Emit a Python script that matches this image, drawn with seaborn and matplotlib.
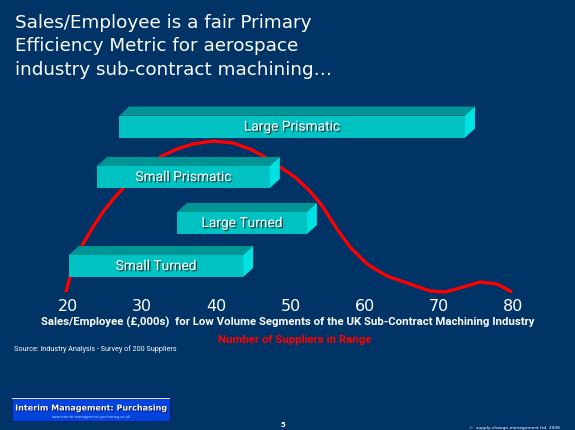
import numpy as np
import pandas as pd
import seaborn as sns
import matplotlib.pyplot as plt
import matplotlib.patheffects as pe
from matplotlib.patches import Polygon, Rectangle

# segment bars: sales/employee range (£,000s)
segments = ['Large Prismatic', 'Small Prismatic', 'Large Turned', 'Small Turned']
seg_start = [26.9, 23.9, 34.7, 20.1]
seg_end = [73.5, 47.2, 52.2, 43.6]
seg_level = [43.1, 30.5, 19.0, 8.25]

# number of suppliers in range (curve)
sales = [19.73, 20.27, 20.94, 22.02, 23.37, 24.72, 26.33, 27.95, 30.11, 32.40,
         34.69, 36.85, 39.54, 42.24, 44.53, 46.55, 48.57, 50.59, 52.61, 54.37,
         56.25, 58.01, 60.30, 62.99, 66.09, 68.79, 70.81, 72.83, 75.53, 77.82, 79.84]
suppliers = [1.7, 5.5, 9.5, 13.75, 18.0, 21.75, 25.5, 28.75, 33.0, 35.5,
             37.5, 38.75, 39.5, 39.0, 37.5, 35.5, 33.0, 30.5, 27.0, 23.0,
             17.5, 13.0, 8.75, 5.75, 3.75, 2.0, 1.75, 2.75, 4.25, 3.75, 1.75]

xticks = [20, 30, 40, 50, 60, 70, 80]

bg = '#003366'
narrow = ['Roboto', 'DejaVu Sans']

sns.set_theme(style='white')
plt.rcParams['font.family'] = ['DejaVu Sans']

fig = plt.figure(figsize=(5.75, 4.31), dpi=100)
fig.patch.set_facecolor(bg)
ax = fig.add_axes([30 / 575, 1 - 298 / 431, 515 / 575, 203 / 431])
ax.set_facecolor(bg)
ax.set_xlim(14.88, 84.29)
ax.set_ylim(0.5, 51.25)

# curve sits behind the bars
df = pd.DataFrame({'sales': sales, 'suppliers': suppliers})
sns.lineplot(data=df, x='sales', y='suppliers', ax=ax, color='#FF0000', lw=2.4,
             zorder=2, sort=False)
ax.lines[-1].set_solid_joinstyle('round')
ax.lines[-1].set_solid_capstyle('butt')

# 3d-ish bars
h = 5.5
dx, dy = 1.35, 2.25
ax.barh(seg_level, np.array(seg_end) - np.array(seg_start), left=seg_start,
        height=h, color='#00C2C2', edgecolor='none', zorder=3)
for name, s, e, lv in zip(segments, seg_start, seg_end, seg_level):
    top, bot = lv + h / 2, lv - h / 2
    ax.add_patch(Polygon([(s, top), (s + dx, top + dy), (e + dx, top + dy), (e, top)],
                         closed=True, fc='#009595', ec='none', zorder=3))
    ax.add_patch(Polygon([(e, bot), (e, top), (e + dx, top + dy), (e + dx, bot + dy)],
                         closed=True, fc='#00E2E2', ec='none', zorder=3))
    ax.text((s + e) / 2, lv, name, ha='center', va='center', color='white',
            fontsize=9.9, family=narrow, zorder=5,
            path_effects=[pe.withSimplePatchShadow(offset=(1, -1), shadow_rgbFace='#1a3a3a', alpha=0.9)])

sns.despine(ax=ax, left=True, bottom=True)
ax.set_yticks([])
ax.set_xticks(xticks)
ax.set_xticklabels([str(t) for t in xticks], color='white', fontsize=11.5)
ax.tick_params(axis='x', length=0, pad=1)
ax.set_ylabel('')
ax.set_xlabel('Sales/Employee (£,000s)  for Low Volume Segments of the UK Sub-Contract Machining Industry',
              color='white', fontsize=8.2, fontweight='bold', family=narrow, labelpad=2)

fig.text(295 / 575, 1 - 340 / 431, 'Number of Suppliers in Range', color='#FF0000',
         fontsize=8.2, fontweight='bold', family=narrow, ha='center', va='center')
fig.text(14 / 575, 1 - 349 / 431, 'Source: Industry Analysis - Survey of 200 Suppliers',
         color='white', fontsize=5.2, family=narrow, ha='left', va='center')

fig.text(15 / 575, 1 - 14 / 431,
         'Sales/Employee is a fair Primary\nEfficiency Metric for aerospace\nindustry sub-contract machining…',
         color='white', fontsize=13.2, ha='left', va='top', linespacing=1.38)

# logo box bottom left
fig.patches.append(Rectangle((12 / 575, 1 - 422 / 431), 158 / 575, 24 / 431,
                             transform=fig.transFigure, fc='#0044DD', ec='#001a66', lw=0.6))
fig.patches.append(Rectangle((12 / 575, 1 - 400 / 431), 158 / 575, 1.5 / 431,
                             transform=fig.transFigure, fc='#dde6ff', ec='none'))
fig.text(91 / 575, 1 - 409 / 431, 'Interim Management: Purchasing', color='white',
         fontsize=5.8, fontweight='bold', ha='center', va='center',
         path_effects=[pe.withSimplePatchShadow(offset=(0.6, -0.6), shadow_rgbFace='#000033', alpha=0.9)])
fig.text(91 / 575, 1 - 417.5 / 431, 'www.interim-management-purchasing.co.uk', color='#c8d4ff',
         fontsize=2.5, ha='center', va='center')

fig.text(283 / 575, 1 - 425 / 431, '5', color='white', fontsize=5, fontweight='bold',
         ha='center', va='center')
fig.text(560 / 575, 1 - 428 / 431, '©  supply-change-management ltd. 2008', color='white',
         fontsize=3.2, ha='right', va='center')

fig.savefig('out.png', dpi=100, facecolor=bg)
